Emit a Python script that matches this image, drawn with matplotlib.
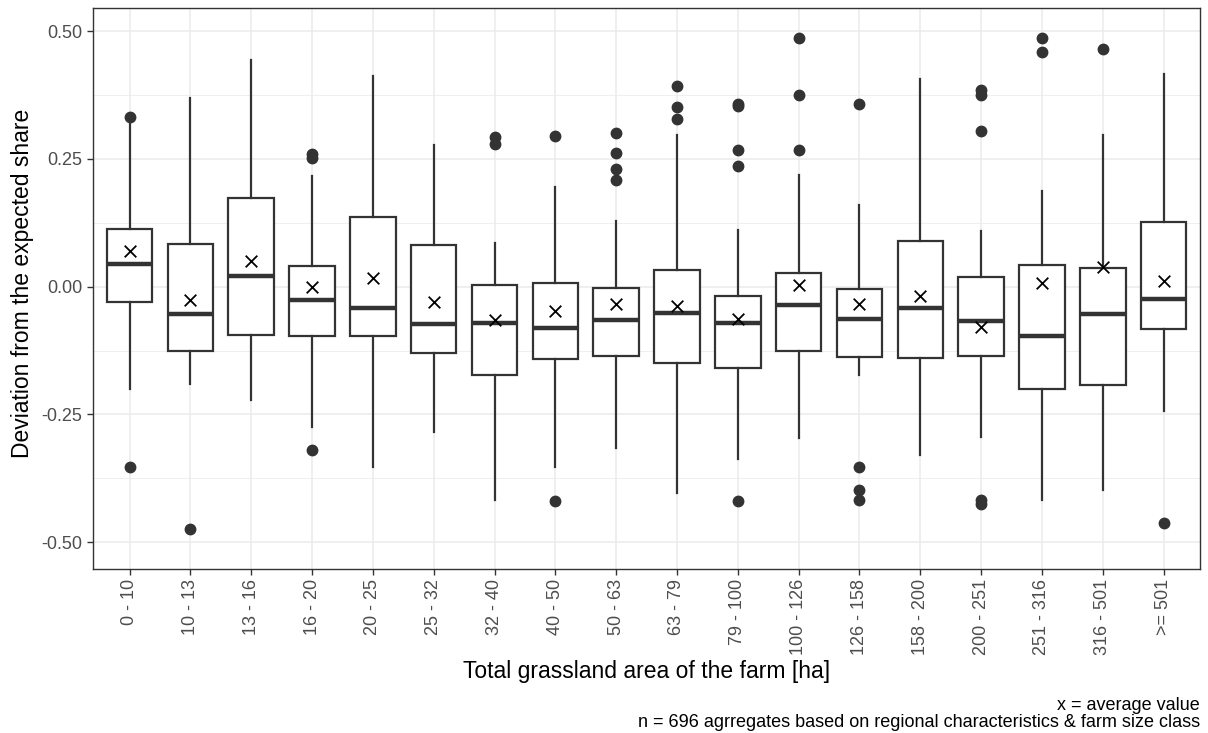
import matplotlib
matplotlib.use("Agg")
import matplotlib.pyplot as plt
from matplotlib.ticker import MultipleLocator

plt.rcParams['font.family'] = ['Liberation Sans', 'DejaVu Sans']

# size classes (ha)
classes = ["0 - 10", "10 - 13", "13 - 16", "16 - 20", "20 - 25", "25 - 32",
           "32 - 40", "40 - 50", "50 - 63", "63 - 79", "79 - 100", "100 - 126",
           "126 - 158", "158 - 200", "200 - 251", "251 - 316", "316 - 501", ">= 501"]

# box statistics
whis_lo = [-0.200, -0.191, -0.222, -0.275, -0.352, -0.285, -0.418, -0.352, -0.315,
           -0.404, -0.338, -0.297, -0.172, -0.329, -0.295, -0.418, -0.398, -0.244]
q1 = [-0.031, -0.125, -0.095, -0.097, -0.096, -0.129, -0.172, -0.141, -0.135,
      -0.149, -0.159, -0.125, -0.137, -0.139, -0.135, -0.201, -0.193, -0.082]
median = [0.045, -0.053, 0.020, -0.027, -0.041, -0.074, -0.072, -0.080, -0.066,
          -0.051, -0.072, -0.035, -0.064, -0.041, -0.067, -0.096, -0.053, -0.025]
q3 = [0.113, 0.084, 0.174, 0.041, 0.137, 0.082, 0.004, 0.008, -0.003,
      0.032, -0.019, 0.027, -0.005, 0.090, 0.018, 0.043, 0.037, 0.127]
whis_hi = [0.326, 0.370, 0.443, 0.217, 0.412, 0.277, 0.085, 0.195, 0.128,
           0.297, 0.111, 0.219, 0.159, 0.406, 0.109, 0.188, 0.297, 0.416]
mean = [0.070, -0.027, 0.051, 0.000, 0.017, -0.031, -0.066, -0.047, -0.033,
        -0.037, -0.064, 0.004, -0.033, -0.018, -0.078, 0.008, 0.038, 0.012]
outliers = [
    [0.332, -0.352],
    [-0.475],
    [],
    [0.260, 0.252, -0.320],
    [],
    [],
    [0.293, 0.279],
    [0.294, -0.420],
    [0.300, 0.262, 0.231, 0.209],
    [0.393, 0.352, 0.327],
    [0.357, 0.353, 0.268, 0.237, -0.420],
    [0.486, 0.375, 0.268],
    [0.357, -0.352, -0.397, -0.418],
    [],
    [0.385, 0.374, 0.305, -0.418, -0.425],
    [0.486, 0.459],
    [0.465],
    [-0.463],
]

stats = []
for i in range(len(classes)):
    stats.append({"whislo": whis_lo[i], "q1": q1[i], "med": median[i], "q3": q3[i],
                  "whishi": whis_hi[i], "fliers": outliers[i], "label": classes[i]})

fig = plt.figure(figsize=(12.08, 7.33), dpi=100)
ax = fig.add_axes([0.077, 0.224, 0.9165, 0.765])

dark = "#333333"
pos = list(range(1, len(classes) + 1))
ax.bxp(stats, positions=pos, widths=0.75, patch_artist=True, showcaps=False,
       boxprops=dict(facecolor="white", edgecolor=dark, linewidth=1.6),
       whiskerprops=dict(color=dark, linewidth=1.6),
       medianprops=dict(color=dark, linewidth=3.2, solid_capstyle="butt"),
       flierprops=dict(marker="o", markerfacecolor=dark, markeredgecolor=dark,
                       markersize=7.5, linestyle="none"),
       zorder=3)
ax.scatter(pos, mean, marker="x", s=70, color="black", linewidths=1.3, zorder=5)

ax.set_xlim(0.4, len(classes) + 0.6)
ax.set_ylim(-0.552, 0.545)
ax.set_yticks([0.50, 0.25, 0.00, -0.25, -0.50])
ax.set_yticklabels(["0.50", "0.25", "0.00", "-0.25", "-0.50"])
ax.yaxis.set_minor_locator(MultipleLocator(0.125))
ax.set_xticks(pos)
ax.set_xticklabels(classes, rotation=90)

ax.grid(True, which="major", color="#EBEBEB", linewidth=1.1, zorder=0)
ax.grid(True, which="minor", axis="y", color="#EBEBEB", linewidth=0.55, zorder=0)
ax.set_axisbelow(True)
for s in ax.spines.values():
    s.set_color(dark)
    s.set_linewidth(1.0)
ax.tick_params(axis="both", which="major", colors=dark, labelcolor="#4D4D4D",
               labelsize=13, length=4, width=1)
ax.tick_params(axis="y", which="minor", length=0)

# axis titles
fig.text(0.535, 1 - 678 / 733, "Total grassland area of the farm [ha]",
         ha="center", va="baseline", fontsize=16.5)
fig.text(0.019, 0.614, "Deviation from the expected share", rotation=90,
         ha="center", va="center", fontsize=16.5)

# caption
fig.text(0.9934, 1 - 710 / 733, "x = average value", ha="right", va="baseline", fontsize=13)
fig.text(0.9934, 1 - 727 / 733, "n = 696 agrregates based on regional characteristics & farm size class",
         ha="right", va="baseline", fontsize=13)

fig.savefig("out.png", dpi=100)
